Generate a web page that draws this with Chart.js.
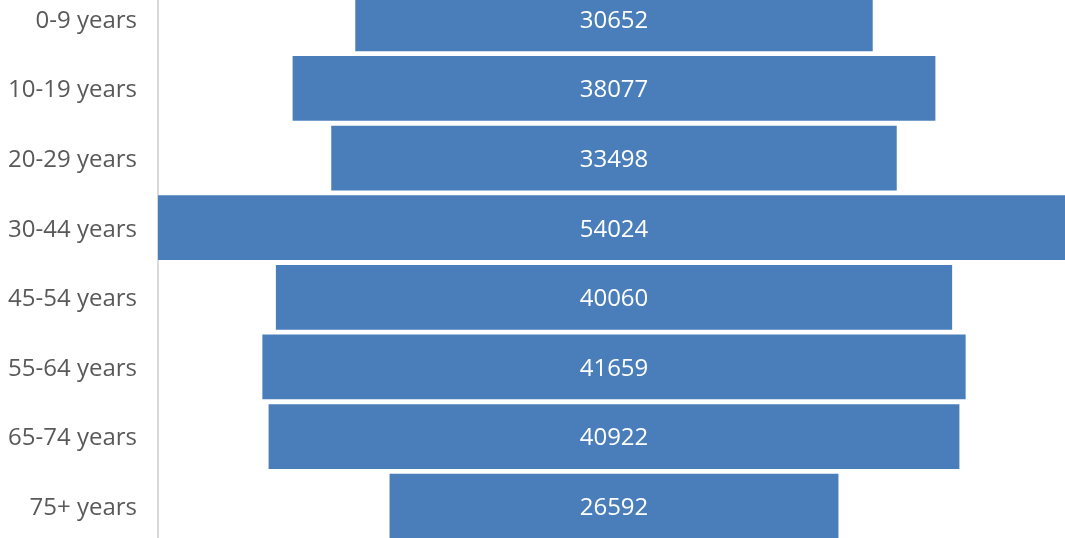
<!DOCTYPE html>
<html>
<head>
<meta charset="utf-8">
<script src="https://cdn.jsdelivr.net/npm/chart.js@4"></script>
<style>
  html, body { margin: 0; padding: 0; background: #fff; overflow: hidden; }
  #wrap { position: absolute; left: 0; top: -16px; width: 1070px; height: 557px; }
</style>
</head>
<body>
<div id="wrap"><canvas id="chart"></canvas></div>
<script>
const ageGroups = ["0-9 years", "10-19 years", "20-29 years", "30-44 years", "45-54 years", "55-64 years", "65-74 years", "75+ years"];
const population = [30652, 38077, 33498, 54024, 40060, 41659, 40922, 26592];

const half = Math.max(...population) / 2;

// category names and bar values, drawn a touch lower than textBaseline middle puts them
const textLayer = {
  id: "textLayer",
  afterDatasetsDraw(chart) {
    const ctx = chart.ctx;
    const yScale = chart.scales.y;
    const area = chart.chartArea;
    ctx.save();
    ctx.font = "24px 'Open Sans'";
    ctx.textBaseline = "middle";
    ageGroups.forEach((name, i) => {
      const y = yScale.getPixelForTick(i) + 2;
      ctx.fillStyle = "#595959";
      ctx.textAlign = "right";
      ctx.fillText(name, area.left - 21, y);
      ctx.fillStyle = "#ffffff";
      ctx.textAlign = "center";
      ctx.fillText(String(population[i]), area.left + area.width / 2, y);
    });
    ctx.restore();
  }
};

new Chart(document.getElementById("chart"), {
  type: "bar",
  data: {
    labels: ageGroups,
    datasets: [{
      data: population.map(v => [-v / 2, v / 2]),
      backgroundColor: "#4a7ebb",
      borderWidth: 0,
      barPercentage: 0.93,
      categoryPercentage: 1
    }]
  },
  options: {
    indexAxis: "y",
    responsive: true,
    maintainAspectRatio: false,
    animation: false,
    layout: { padding: 0 },
    plugins: { legend: { display: false }, tooltip: { enabled: false } },
    scales: {
      x: { display: false, min: -half, max: half },
      y: {
        afterFit(scale) {
          scale.width = 158;
          scale.paddingTop = 0;
          scale.paddingBottom = 0;
        },
        grid: { display: false, drawTicks: false },
        border: { display: true, color: "#d9d9d9", width: 2 },
        ticks: { display: false }
      }
    }
  },
  plugins: [textLayer]
});
</script>
</body>
</html>
